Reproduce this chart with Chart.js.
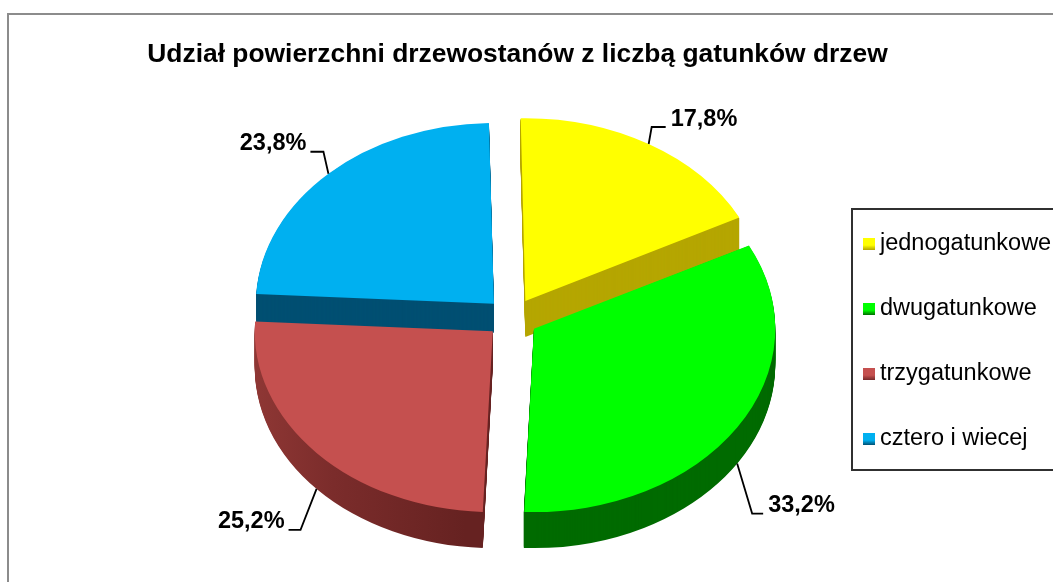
<!DOCTYPE html>
<html>
<head>
<meta charset="utf-8">
<style>
  html, body { margin:0; padding:0; background:#fff; overflow:hidden; }
  canvas { display:block; }
</style>
<script src="https://cdn.jsdelivr.net/npm/chart.js@4/dist/chart.umd.min.js"></script>
</head>
<body>
<canvas id="pie" width="1053" height="582"></canvas>
<script>
// chart data
const titleText = 'Udział powierzchni drzewostanów z liczbą gatunków drzew';
const categories = ['jednogatunkowe', 'dwugatunkowe', 'trzygatunkowe', 'cztero i wiecej'];
const shares = [17.8, 33.2, 25.2, 23.8];

// colours
const topColors = ['#FFFF00', '#00FF00', '#C5504F', '#00B0F0'];
const sideColors = ['#B5A600', '#006B00', '#74292A', '#004F72'];

// look of the fake 3D pie
const pieCenter = {x: 512, y: 318};
const tilt = 0.76;
const sliceOffset = 104;     // chart.js moves a slice by offset/4
const sideDepth = [36, 36, 36, 29];
// elbow of each leader line, relative to the slice rim, and length of its tail
const leaderElbow = [[3, -17], [15, 50], [-16, 41], [-5, -22]];
const leaderTail = [14, 11, -12, -13];

const FONT = '"Liberation Sans", Arial, sans-serif';
const fmt = v => v.toFixed(1).replace('.', ',') + '%';

// slice radius the way ArcElement.draw grows it when offset is set
function arcRadius(arc){
  const fix = 1 - Math.sin(Math.min(Math.PI, arc.circumference));
  return arc.outerRadius + (sliceOffset / 4) * fix;
}

function toPie(ctx, arc){
  ctx.translate(pieCenter.x, pieCenter.y);
  ctx.scale(1, tilt);
  ctx.translate(-arc.x, -arc.y);
}

const pie3d = {
  id: 'pie3d',
  beforeDraw(chart){
    // frame, it runs off the right and bottom of the picture
    const ctx = chart.ctx;
    ctx.save();
    ctx.strokeStyle = '#8c8c8c';
    ctx.lineWidth = 2;
    ctx.beginPath();
    ctx.moveTo(8, 582); ctx.lineTo(8, 14); ctx.lineTo(1053, 14);
    ctx.stroke();
    ctx.restore();
  },
  beforeDatasetsDraw(chart){
    const ctx = chart.ctx;
    const arcs = chart.getDatasetMeta(0).data;
    // sides first, the library paints the tops over them
    arcs.forEach((arc, i) => {
      const mid = (arc.startAngle + arc.endAngle) / 2;
      const move = sliceOffset / 4;
      let fill = sideColors[i];
      if(i === 2){
        const g = ctx.createLinearGradient(250, 0, 490, 0);
        g.addColorStop(0, '#963B38');
        g.addColorStop(0.45, '#7B2C2B');
        g.addColorStop(1, '#662221');
        fill = g;
      }
      for(let d = sideDepth[i]; d >= 1; d--){
        ctx.save();
        ctx.translate(0, d);
        toPie(ctx, arc);
        ctx.translate(Math.cos(mid) * move, Math.sin(mid) * move);
        ctx.fillStyle = fill;
        ctx.beginPath();
        ctx.moveTo(arc.x, arc.y);
        ctx.arc(arc.x, arc.y, arcRadius(arc), arc.startAngle, arc.endAngle);
        ctx.closePath();
        ctx.fill();
        ctx.restore();
      }
    });
    ctx.save();
    toPie(ctx, arcs[0]);
  },
  afterDatasetsDraw(chart){
    const ctx = chart.ctx;
    ctx.restore();
    drawLeaders(chart);
    drawLegend(chart);
  }
};

function drawLeaders(chart){
  const ctx = chart.ctx;
  const arcs = chart.getDatasetMeta(0).data;
  ctx.save();
  ctx.font = 'bold 23.5px ' + FONT;
  ctx.textBaseline = 'middle';
  ctx.fillStyle = '#000';
  ctx.strokeStyle = '#000';
  ctx.lineWidth = 1.8;
  arcs.forEach((arc, i) => {
    const mid = (arc.startAngle + arc.endAngle) / 2;
    const r = arcRadius(arc) + sliceOffset / 4;
    const px = pieCenter.x + Math.cos(mid) * r;
    let py = pieCenter.y + Math.sin(mid) * r * tilt;
    if(Math.sin(mid) > 0) py += sideDepth[i];
    const ex = px + leaderElbow[i][0];
    const ey = py + leaderElbow[i][1];
    const tx = ex + leaderTail[i];
    ctx.beginPath();
    ctx.moveTo(px, py); ctx.lineTo(ex, ey); ctx.lineTo(tx, ey);
    ctx.stroke();
    const right = leaderTail[i] > 0;
    ctx.textAlign = right ? 'left' : 'right';
    ctx.fillText(fmt(shares[i]), tx + (right ? 5 : -4), ey - 8);
  });
  ctx.restore();
}

function drawLegend(chart){
  const ctx = chart.ctx;
  ctx.save();
  ctx.strokeStyle = '#303030';
  ctx.lineWidth = 2;
  ctx.beginPath();
  ctx.moveTo(1053, 209); ctx.lineTo(852, 209); ctx.lineTo(852, 470); ctx.lineTo(1053, 470);
  ctx.stroke();
  ctx.font = '23.5px ' + FONT;
  ctx.textBaseline = 'middle';
  ctx.textAlign = 'left';
  categories.forEach((name, i) => {
    const y = 244 + i * 65;
    const g = ctx.createLinearGradient(0, y - 6, 0, y + 6);
    g.addColorStop(0, topColors[i]);
    g.addColorStop(0.6, topColors[i]);
    g.addColorStop(1, sideColors[i]);
    ctx.fillStyle = g;
    ctx.fillRect(863, y - 6, 12, 12);
    ctx.fillStyle = '#000';
    ctx.fillText(name, 880, y);
  });
  ctx.restore();
}

new Chart(document.getElementById('pie'), {
  type: 'pie',
  data: {
    labels: categories,
    datasets: [{
      data: shares,
      backgroundColor: topColors,
      borderWidth: 0,
      offset: sliceOffset,
      clip: false
    }]
  },
  options: {
    responsive: false,
    animation: false,
    rotation: -1.2,
    radius: 238,
    layout: {padding: {right: 18}},
    plugins: {
      legend: {display: false},
      tooltip: {enabled: false},
      title: {
        display: true,
        text: titleText,
        color: '#000',
        font: {family: FONT, size: 26.4, weight: 'bold'},
        padding: {top: 39, bottom: 10}
      }
    }
  },
  plugins: [pie3d]
});
</script>
</body>
</html>
